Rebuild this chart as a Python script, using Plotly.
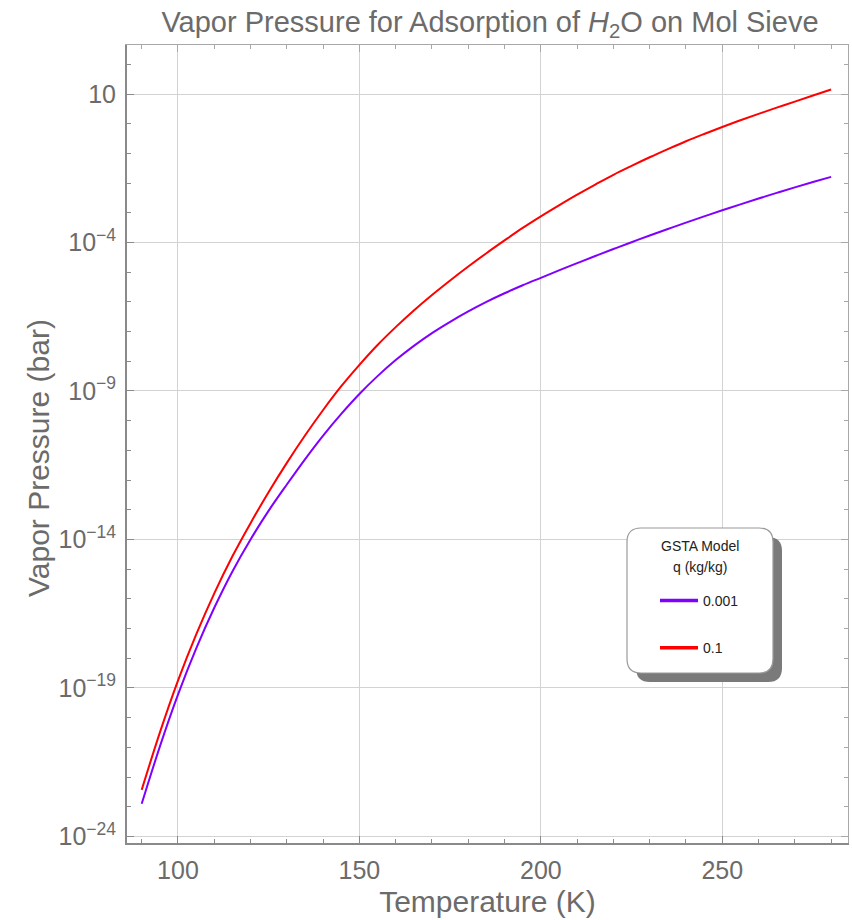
import plotly.graph_objects as go

# ---- data ----
temps = list(range(90, 285, 5))
log_p_q0001 = [-22.9, -20.975, -19.225, -17.675, -16.3, -15.075, -14.0, -13.03, -12.15, -11.3,
               -10.5, -9.77, -9.1, -8.5, -7.96, -7.48, -7.05, -6.67, -6.32, -6.0, -5.71,
               -5.44, -5.19, -4.94, -4.695, -4.455, -4.22, -3.99, -3.765, -3.545, -3.33,
               -3.12, -2.915, -2.715, -2.52, -2.33, -2.145, -1.965, -1.79]
log_p_q01 = [-22.43, -20.505, -18.755, -17.205, -15.815, -14.565, -13.45, -12.4, -11.42, -10.5,
             -9.64, -8.84, -8.12, -7.45, -6.85, -6.29, -5.77, -5.28, -4.81, -4.36, -3.93,
             -3.51, -3.12, -2.75, -2.39, -2.05, -1.72, -1.42, -1.13, -0.855, -0.59, -0.345,
             -0.11, 0.115, 0.33, 0.54, 0.745, 0.95, 1.15]
series_names = ["0.001", "0.1"]
series_colors = ["#8000ff", "#ff0000"]

x_major = [100, 150, 200, 250]
x_minor = list(range(90, 290, 10))
y_exps = [1, -4, -9, -14, -19, -24]
y_labels = ["10", "10<sup>\u22124</sup>", "10<sup>\u22129</sup>", "10<sup>\u221214</sup>",
            "10<sup>\u221219</sup>", "10<sup>\u221224</sup>"]
y_minor_exps = list(range(-24, 3))
legend_title_lines = ["GSTA Model", "q (kg/kg)"]
y_title = "Vapor Pressure (bar)"

pressures = [[10 ** v for v in log_p_q0001], [10 ** v for v in log_p_q01]]

FONT = "Liberation Sans, Arial, sans-serif"
TXT = "#6b6b6b"
LEG_TXT = "#222222"

# plot-area geometry in pixels
L, R, T, B = 127, 848, 45, 843
PW, PH = R - L, B - T


def px(x):
    return (x - L) / PW


def py(y):
    return (B - y) / PH


fig = go.Figure()
for name, col, ys in zip(series_names, series_colors, pressures):
    fig.add_trace(go.Scatter(x=temps, y=ys, mode="lines", name=name,
                             line=dict(color=col, width=2, shape="spline", smoothing=1.0),
                             legendgroup=name, showlegend=False))
# legend swatches (thicker lines, as in the reference legend)
for name, col in zip(series_names, series_colors):
    fig.add_trace(go.Scatter(x=[None], y=[None], mode="lines", name=name,
                             line=dict(color=col, width=3.5), legendgroup=name,
                             hoverinfo="skip"))
# dummy trace so the top/right frame axes are drawn
fig.add_trace(go.Scatter(x=[None], y=[None], xaxis="x2", yaxis="y2", showlegend=False,
                         hoverinfo="skip"))

xr = [85.95, 284.65]
yr = [-24.22, 2.65]

fig.update_layout(
    width=852, height=920,
    margin=dict(l=L, r=852 - R, t=T, b=920 - B),
    paper_bgcolor="white", plot_bgcolor="white",
    font=dict(family=FONT, color=TXT),
    title=dict(text="Vapor Pressure for Adsorption of <i>H</i><sub>2</sub>O on Mol Sieve",
               x=490 / 852, xanchor="center",
               y=1 - 22 / 920, yanchor="middle",
               font=dict(size=29, color=TXT, family=FONT)),
    xaxis=dict(range=xr, showline=True, linecolor="#8a8a8a", linewidth=2,
               tickvals=x_major, ticktext=[str(v) for v in x_major],
               ticks="inside", ticklen=7, tickwidth=1, tickcolor="#8a8a8a",
               showgrid=True, gridcolor="#d3d3d3", gridwidth=1, zeroline=False,
               tickfont=dict(size=25, color=TXT), ticklabelstandoff=4,
               minor=dict(tickvals=x_minor, ticks="inside", ticklen=4,
                          tickcolor="#8a8a8a", showgrid=False),
               title=dict(text="Temperature (K)", font=dict(size=30, color=TXT),
                          standoff=8)),
    yaxis=dict(type="log", range=yr, showline=True, linecolor="#8a8a8a", linewidth=2,
               tickvals=[10 ** e for e in y_exps], ticktext=y_labels,
               ticks="inside", ticklen=7, tickwidth=1, tickcolor="#8a8a8a",
               showgrid=True, gridcolor="#d3d3d3", gridwidth=1, zeroline=False,
               tickfont=dict(size=25, color=TXT), ticklabelstandoff=4,
               minor=dict(tickvals=[10 ** e for e in y_minor_exps], ticks="inside",
                          ticklen=4, tickcolor="#8a8a8a", showgrid=False)),
    xaxis2=dict(overlaying="x", matches="x", side="top", anchor="y", range=xr,
                showline=True, linecolor="#a8a8a8", linewidth=1,
                tickvals=x_major, ticks="inside", ticklen=7, tickcolor="#a8a8a8",
                showticklabels=False, showgrid=False, zeroline=False,
                minor=dict(tickvals=x_minor, ticks="inside", ticklen=4,
                           tickcolor="#a8a8a8", showgrid=False)),
    yaxis2=dict(overlaying="y", matches="y", side="right", anchor="x", type="log",
                range=yr, showline=True, linecolor="#a8a8a8", linewidth=1,
                tickvals=[10 ** e for e in y_exps], ticks="inside", ticklen=7,
                tickcolor="#a8a8a8", showticklabels=False, showgrid=False,
                zeroline=False,
                minor=dict(tickvals=[10 ** e for e in y_minor_exps], ticks="inside",
                           ticklen=4, tickcolor="#a8a8a8", showgrid=False)),
    showlegend=True,
    legend=dict(x=px(655), xanchor="left",
                y=py(585), yanchor="top",
                bgcolor="rgba(0,0,0,0)", borderwidth=0,
                font=dict(size=14, color=LEG_TXT, family=FONT),
                traceorder="grouped", tracegroupgap=26, itemwidth=38),
)

# y-axis title (placed slightly below the plot centre, as in the reference)
fig.add_annotation(text=y_title, xref="paper", yref="paper", x=px(38), y=py(458),
                   xanchor="center", yanchor="middle", textangle=-90, showarrow=False,
                   font=dict(size=30, color=TXT, family=FONT))

# legend title lines as centred text
for i, line in enumerate(legend_title_lines):
    fig.add_annotation(text=line, xref="paper", yref="paper", x=px(699.5),
                       y=py(546 + 21 * i), xanchor="center", yanchor="middle",
                       showarrow=False, font=dict(size=14, color=LEG_TXT, family=FONT))


def rrect(x0, y0, x1, y1, r):
    pts = [
        f"M{px(x0 + r)},{py(y0)}", f"L{px(x1 - r)},{py(y0)}",
        f"Q{px(x1)},{py(y0)} {px(x1)},{py(y0 + r)}", f"L{px(x1)},{py(y1 - r)}",
        f"Q{px(x1)},{py(y1)} {px(x1 - r)},{py(y1)}", f"L{px(x0 + r)},{py(y1)}",
        f"Q{px(x0)},{py(y1)} {px(x0)},{py(y1 - r)}", f"L{px(x0)},{py(y0 + r)}",
        f"Q{px(x0)},{py(y0)} {px(x0 + r)},{py(y0)}", "Z"]
    return " ".join(pts)


fig.add_shape(type="path", xref="paper", yref="paper", layer="above",
              path=rrect(636, 537, 782, 682, 14), fillcolor="#7a7a7a",
              line=dict(width=0))
fig.add_shape(type="path", xref="paper", yref="paper", layer="above",
              path=rrect(627, 528, 773, 673, 14), fillcolor="white",
              line=dict(color="#9a9a9a", width=1.2))

fig.write_html("out.html")
